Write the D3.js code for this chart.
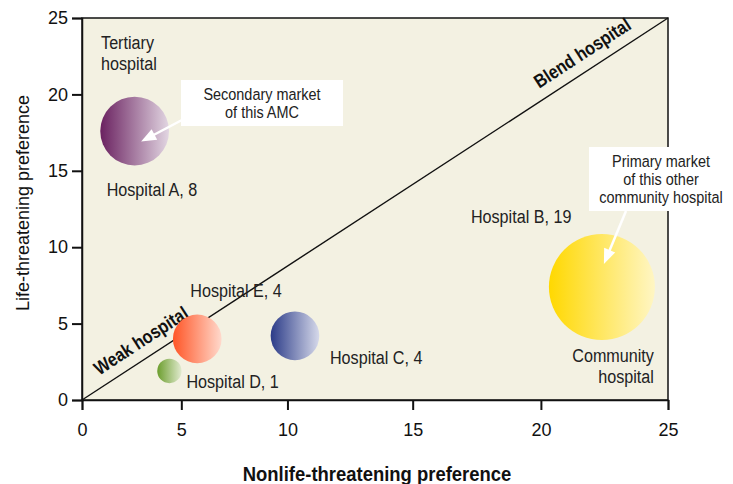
<!DOCTYPE html>
<html>
<head>
<meta charset="utf-8">
<script src="https://cdn.jsdelivr.net/npm/d3@7"></script>
<style>
  html, body { margin: 0; padding: 0; background: #ffffff; }
  svg { display: block; }
</style>
</head>
<body>
<svg id="chart" width="733" height="484"></svg>
<script>
// ---------------- data ----------------
const hospitals = ["Hospital A", "Hospital B", "Hospital C", "Hospital D", "Hospital E"];
const nonlifePref = [2.65, 22.4, 10.3, 4.4, 5.75];   // x
const lifePref    = [17.6, 7.4, 4.2, 1.9, 4.0];      // y
const counts      = [8, 19, 4, 1, 4];                // bubble size
const xTicks = [0, 5, 10, 15, 20, 25];
const yTicks = [0, 5, 10, 15, 20, 25];

// ---------------- style / layout ----------------
const gradColors = [
  ["#6a2160", "#e2d6e2"],
  ["#ffd800", "#fff6c4"],
  ["#2b3b88", "#d6d9ea"],
  ["#6c9e2e", "#e1eacf"],
  ["#ff5526", "#ffd9cc"]
];
// label offsets (px) from bubble centre, baseline-anchored
const labelLayout = [
  { dx: -28, dy: 65, anchor: "start" },
  { dx: -131, dy: -64, anchor: "start" },
  { dx: 35, dy: 28, anchor: "start" },
  { dx: 17, dy: 17, anchor: "start" },
  { dx: -7, dy: -42, anchor: "start" }
];
const SANS = "'Liberation Sans', Arial, Helvetica, sans-serif";
const CONDENSE = 0.85;   // horizontal squeeze to mimic a condensed face

const svg = d3.select("#chart");
const mLeft = 82, mRight = 668, mTop = 18, mBottom = 400;
const W = mRight - mLeft;
// the printed x axis is not evenly spaced; follow its tick positions
const xFrac = [0, 0.1695, 0.3506, 0.5643, 0.7831, 1];
const x = d3.scaleLinear().domain(xTicks).range(xFrac.map(f => mLeft + f * W));
const y = d3.scaleLinear().domain([0, 25]).range([mBottom, mTop]);
const r = d3.scaleSqrt().domain([0, 19]).range([0, 53]);

// gradients
const defs = svg.append("defs");
gradColors.forEach((c, i) => {
  const g = defs.append("linearGradient").attr("id", "grad" + i)
    .attr("x1", "0%").attr("x2", "100%").attr("y1", "0%").attr("y2", "0%");
  g.append("stop").attr("offset", "0%").attr("stop-color", c[0]);
  g.append("stop").attr("offset", "100%").attr("stop-color", c[1]);
});

// plot background
svg.append("rect").attr("x", mLeft).attr("y", mTop)
  .attr("width", W).attr("height", mBottom - mTop)
  .attr("fill", "#f3f1e2").attr("stroke", "#111").attr("stroke-width", 1.5);

// diagonal
const p0 = [x(0), y(0)], p1 = [x(25), y(25)];
svg.append("line").attr("x1", p0[0]).attr("y1", p0[1]).attr("x2", p1[0]).attr("y2", p1[1])
  .attr("stroke", "#111").attr("stroke-width", 1.4);

const ang = Math.atan2(p1[1] - p0[1], p1[0] - p0[0]) * 180 / Math.PI;
function diagLabel(text, f, off) {
  const px = p0[0] + f * (p1[0] - p0[0]);
  const py = p0[1] + f * (p1[1] - p0[1]);
  const a = ang * Math.PI / 180;
  const ox = Math.sin(a) * off, oy = -Math.cos(a) * off;
  svg.append("text")
    .attr("transform", `translate(${px + ox},${py + oy}) rotate(${ang}) scale(${CONDENSE},1)`)
    .attr("text-anchor", "middle")
    .style("font-family", SANS).style("font-weight", "bold").style("font-size", "19px")
    .attr("fill", "#111").text(text);
}
diagLabel("Weak hospital", 0.117, 11);
diagLabel("Blend hospital", 0.87, 11);

// axes
const xAxis = svg.append("g").attr("transform", `translate(0,${mBottom})`)
  .call(d3.axisBottom(x).tickValues(xTicks).tickSize(10).tickPadding(13).tickFormat(d3.format("d")));
const yAxis = svg.append("g").attr("transform", `translate(${mLeft},0)`)
  .call(d3.axisLeft(y).tickValues(yTicks).tickSize(10).tickPadding(4).tickFormat(d3.format("d")));
[xAxis, yAxis].forEach(g => {
  g.select(".domain").attr("stroke", "#111").attr("stroke-width", 1.5);
  g.selectAll(".tick line").attr("stroke", "#111").attr("stroke-width", 2);
  g.selectAll(".tick text").style("font-family", SANS).style("font-size", "18px").attr("fill", "#111");
});

// bubbles
const idx = d3.range(hospitals.length);
svg.append("g").selectAll("circle").data(idx).join("circle")
  .attr("cx", i => x(nonlifePref[i]))
  .attr("cy", i => y(lifePref[i]))
  .attr("r", i => r(counts[i]))
  .attr("fill", i => `url(#grad${i})`);

// bubble labels
svg.append("g").selectAll("text").data(idx).join("text")
  .attr("transform", i => `translate(${x(nonlifePref[i]) + labelLayout[i].dx},${y(lifePref[i]) + labelLayout[i].dy}) scale(${CONDENSE},1)`)
  .attr("text-anchor", i => labelLayout[i].anchor)
  .style("font-family", SANS).style("font-size", "19px").attr("fill", "#222")
  .text(i => `${hospitals[i]}, ${counts[i]}`);

// multi-line condensed text
function multiText(lines, px, py, anchor, size, lh) {
  const t = svg.append("text").attr("text-anchor", anchor)
    .attr("transform", `translate(${px},${py}) scale(${CONDENSE},1)`)
    .style("font-family", SANS).style("font-size", size + "px").attr("fill", "#222");
  lines.forEach((l, k) => t.append("tspan").attr("x", 0).attr("y", k * lh).text(l));
}
multiText(["Tertiary", "hospital"], x(0.96), y(23.0), "start", 19, 21);
multiText(["Community", "hospital"], x(nonlifePref[1]) + 52, y(lifePref[1]) + 75, "end", 19, 21);

// callouts
function arrow(sx, sy, tx, ty) {
  const dx = tx - sx, dy = ty - sy, L = Math.hypot(dx, dy);
  const ux = dx / L, uy = dy / L;
  const hl = 15, hw = 6;
  const bx = tx - ux * hl, by = ty - uy * hl;
  svg.append("line").attr("x1", sx).attr("y1", sy).attr("x2", bx + ux * 2).attr("y2", by + uy * 2)
    .attr("stroke", "#fff").attr("stroke-width", 2.5);
  svg.append("path")
    .attr("d", `M${tx},${ty}L${bx - uy * hw},${by + ux * hw}L${bx + uy * hw},${by - ux * hw}Z`)
    .attr("fill", "#fff");
}
function callout(lines, bx, by, bw, bh, lh, sx, sy, tx, ty) {
  svg.append("rect").attr("x", bx).attr("y", by).attr("width", bw).attr("height", bh).attr("fill", "#fff");
  arrow(sx, sy, tx, ty);
  const firstBase = by + (bh - (lines.length - 1) * lh) / 2 + 6;
  multiText(lines, bx + bw / 2, firstBase, "middle", 17, lh);
}
const ax = x(nonlifePref[0]), ay = y(lifePref[0]);
callout(["Secondary market", "of this AMC"], 181, 80, 162, 46, 19, 182, 120, ax + 6.5, ay + 10.5);
const bxc = x(nonlifePref[1]), byc = y(lifePref[1]);
callout(["Primary market", "of this other", "community hospital"], 589, 147, 144, 64, 18.5, 626, 211, bxc + 2, byc - 23);

// axis titles
svg.append("text").attr("transform", `translate(29,${(mTop + mBottom) / 2 - 6}) rotate(-90)`)
  .attr("text-anchor", "middle").style("font-family", SANS).style("font-size", "18px").attr("fill", "#111")
  .text("Life-threatening preference");
svg.append("text")
  .attr("transform", `translate(${(mLeft + mRight) / 2 + 2},481) scale(0.9,1)`)
  .attr("text-anchor", "middle").style("font-family", SANS).style("font-weight", "bold")
  .style("font-size", "20.5px").attr("fill", "#111")
  .text("Nonlife-threatening preference");
</script>
</body>
</html>
